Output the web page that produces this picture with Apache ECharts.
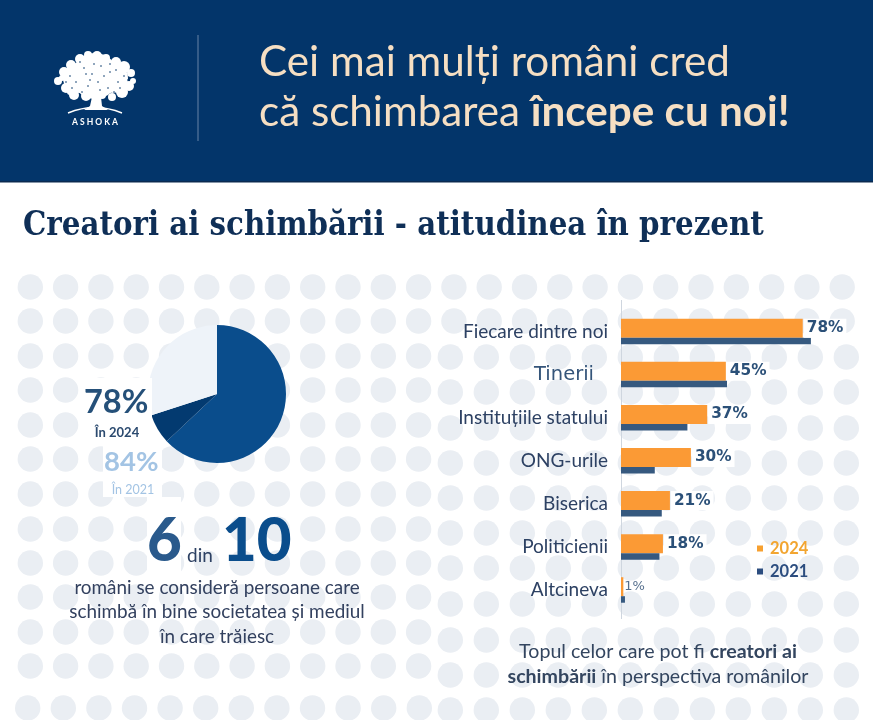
<!DOCTYPE html>
<html lang="ro">
<head>
<meta charset="utf-8">
<title>Creatori ai schimbării</title>
<style>
  html, body { margin: 0; padding: 0; background: #fff; }
  #chart { width: 873px; height: 720px; }
</style>
<script src="https://cdn.jsdelivr.net/npm/echarts@6/dist/echarts.min.js"></script>
</head>
<body>
<div id="chart"></div>
<script>
// Bar chart data: who can be a creator of change, in percent
const categories = ['Fiecare dintre noi', 'Tinerii', 'Instituțiile statului', 'ONG-urile', 'Biserica', 'Politicienii', 'Altcineva'];
const values2024 = [78, 45, 37, 30, 21, 18, 1];
const values2021 = [81.5, 45.5, 28.5, 14.5, 17.5, 16.5, 1.7];
const seriesNames = ['2024', '2021'];

// Pie chart data: share of people who see themselves as changemakers
const pieNames = ['Se consideră', 'Diferență', 'Restul'];
const pieValues = [63, 7, 30];

// Headline and caption text
const headerLine1 = 'Cei mai mulți români cred';
const headerLine2 = 'că schimbarea ';
const headerBold = 'începe cu noi!';
const pageTitle = 'Creatori ai schimbării - atitudinea în prezent';
const bodyLines = ['români se consideră persoane care', 'schimbă în bine societatea și mediul', 'în care trăiesc'];

const NAVY = '#03356a';
const ORANGE = '#fb9a35';
const BLUE = '#36597f';
const DOT = '#eaeef3';
const INK = '#2d4163';

const graphics = [];

function dot(x, y) {
  graphics.push({ type: 'circle', z: 0, silent: true, shape: { cx: x, cy: y, r: 12.7 }, style: { fill: DOT } });
}
function rect(x, y, w, h, fill, z) {
  graphics.push({ type: 'rect', z: z, silent: true, shape: { x: x, y: y, width: w, height: h }, style: { fill: fill } });
}
function text(str, x, y, font, fill, align, rich) {
  graphics.push({
    type: 'text', z: 12, silent: true,
    style: { text: str, x: x, y: y, font: font, fill: fill, textAlign: align || 'left', textVerticalAlign: 'middle', rich: rich }
  });
}

// Dotted backdrop, made of three offset grids
const leftRows = [287, 321, 356, 390, 425, 459, 494, 529, 563, 597, 632, 666];
leftRows.forEach(function (y, r) {
  const cols = r < 2 ? 24 : 12;
  for (let k = 0; k < cols; k++) dot(30.3 + 35.3 * k, y);
});
for (let k = 0; k < 12; k++) dot(27.7 + 35.6 * k, 708);
[357, 392, 428, 463, 498, 533, 568, 604, 640, 675, 710].forEach(function (y) {
  for (let k = 0; k < 12; k++) dot(450.3 + 36 * k, y);
});

// Header band
rect(0, 0, 873, 182, NAVY, 1);
rect(0, 181, 873, 1.5, '#0b2a50', 1);
rect(197.5, 35, 1, 106, '#6884a6', 2);

// Tree emblem
const crown = [[95,76,23],[78,78,15],[113,78,15],[80,59,5],[88,55,4],[97,56,5],[106,58,4],[116,62,5],[71,65,5],[124,67,6],[64,72,5],[131,73,4],[58,81,4],[133,81,3],[62,78,3],[129,86,5],[66,88,5],[122,92,6],[74,95,5],[112,97,4],[86,96,5],[102,95,4],[70,92,3]];
const specks = [[84,68],[92,74],[101,66],[110,72],[76,82],[88,86],[98,82],[108,88],[118,82],[70,76],[124,76],[94,64],[82,92],[114,92],[104,76],[72,88],[90,80],[86,74],[116,70],[100,90],[80,62],[110,64],[128,80],[66,82],[94,92],[120,88]];
crown.forEach(function (c) {
  graphics.push({ type: 'circle', z: 3, silent: true, shape: { cx: c[0], cy: c[1], r: c[2] }, style: { fill: '#fff' } });
});
specks.forEach(function (s) {
  graphics.push({ type: 'circle', z: 4, silent: true, shape: { cx: s[0], cy: s[1], r: 0.8 }, style: { fill: NAVY } });
});
graphics.push({ type: 'polygon', z: 4, silent: true, shape: { points: [[84,110],[90,106],[92,97],[87,91],[92,93],[95,87],[98,87],[99,93],[105,89],[101,97],[102,106],[108,110]] }, style: { fill: '#fff' } });
graphics.push({ type: 'bezierCurve', z: 4, silent: true, shape: { x1: 68, y1: 113, x2: 122, y2: 113, cpx1: 95, cpy1: 102 }, style: { stroke: '#fff', lineWidth: 1.4, fill: 'none' } });
text('A S H O K A', 95, 122, '700 8.5px Lato', '#fff', 'center');

// Headline
text(headerLine1, 259, 62, '400 42.2px Lato', '#f6dfc3');
text('{r|' + headerLine2 + '}{b|' + headerBold + '}', 259, 112, '400 42.2px Lato', '#f6dfc3', 'left', {
  r: { font: '400 42.2px Lato', color: '#f6dfc3' },
  b: { font: '700 42.2px Lato', color: '#f6dfc3' }
});

// Section title
text(pageTitle, 23, 227, '700 32.6px "DejaVu Serif Condensed"', '#0f2f57');

// White patches behind the left-hand figures
rect(83, 378, 69, 60, '#fff', 10);
rect(103, 438, 59, 59, '#fff', 10);
rect(147, 497, 34, 80, '#fff', 10);

text('78%', 84, 403, '700 32.5px Lato', '#255079');
text('În 2024', 117, 433, '700 13px Lato', '#2b4a6f', 'center');
text('84%', 104, 462, '700 27.5px Lato', '#a3c4e4');
text('În 2021', 133, 490, '400 12.5px Lato', '#a3c4e4', 'center');

text('6', 147, 541.5, '900 60px Lato', '#2a5a8c');
text('din', 187, 556, '400 19px Lato', INK);
text('10', 222, 541.5, '900 60px Lato', '#0a4d8c');

bodyLines.forEach(function (line, i) {
  text(line, 217, [588, 612, 636.5][i], '400 18.9px Lato', '#33415f', 'center');
});

// Bar chart baseline
rect(621, 300, 1, 319, '#cfd6df', 1);

// Bar chart caption
text('{r|Topul celor care pot fi }{b|creatori ai}', 658, 652, '400 19.6px Lato', '#33455f', 'center', {
  r: { font: '400 19.6px Lato', color: '#33455f' },
  b: { font: '700 19.6px Lato', color: '#2b3a55' }
});
text('{b|schimbării}{r| în perspectiva românilor}', 658, 677, '400 19.6px Lato', '#33455f', 'center', {
  r: { font: '400 19.6px Lato', color: '#33455f' },
  b: { font: '700 19.6px Lato', color: '#2b3a55' }
});

const valueLabel = {
  show: true,
  position: 'right',
  distance: 1,
  formatter: '{c}%',
  color: '#2b5078',
  fontFamily: '"DejaVu Sans"',
  fontWeight: 700,
  fontSize: 15.3,
  backgroundColor: '#fff',
  padding: [2, 3]
};
const smallLabel = {
  fontWeight: 400,
  fontSize: 13,
  color: '#56708e',
  backgroundColor: 'transparent',
  padding: 0
};

const chart = echarts.init(document.getElementById('chart'), null, { renderer: 'canvas' });
chart.setOption({
  animation: false,
  backgroundColor: '#fff',
  graphic: { elements: graphics },
  grid: { left: 621, top: 310, width: 233, height: 301.5, containLabel: false },
  xAxis: { type: 'value', min: 0, max: 100, show: false },
  yAxis: {
    type: 'category',
    inverse: true,
    data: categories,
    axisLine: { show: false },
    axisTick: { show: false },
    axisLabel: {
      margin: 13,
      fontFamily: 'Lato',
      fontSize: 19,
      color: INK,
      formatter: function (v) { return v === 'Tinerii' ? '{t|' + v + '}{g|}' : v; },
      rich: {
        t: { fontFamily: '"DejaVu Sans"', fontSize: 19.5, color: '#35557a' },
        g: { width: 14 }
      }
    }
  },
  legend: {
    orient: 'vertical',
    left: 757,
    top: 540,
    padding: 0,
    icon: 'rect',
    itemWidth: 6,
    itemHeight: 6,
    itemGap: 6,
    selectedMode: false,
    textStyle: { fontFamily: 'Lato', fontWeight: 700, fontSize: 16.5, padding: [0, 0, 0, 2] },
    data: [
      { name: seriesNames[0], textStyle: { color: '#f2a530' }, itemStyle: { color: '#f7a02f' } },
      { name: seriesNames[1], textStyle: { color: '#2c4d7f' }, itemStyle: { color: '#2c4d7f' } }
    ]
  },
  series: [
    {
      type: 'bar',
      name: seriesNames[0],
      barWidth: 19,
      barGap: 0,
      itemStyle: { color: ORANGE },
      label: valueLabel,
      data: values2024.map(function (v, i) {
        return i === values2024.length - 1 ? { value: v, label: smallLabel } : v;
      })
    },
    {
      type: 'bar',
      name: seriesNames[1],
      barWidth: 6.5,
      barGap: 0,
      itemStyle: { color: BLUE },
      data: values2021
    },
    {
      type: 'pie',
      name: 'Creatori',
      center: [217, 394],
      radius: [0, 69],
      startAngle: 90,
      clockwise: true,
      label: { show: false },
      labelLine: { show: false },
      silent: true,
      data: pieValues.map(function (v, i) {
        return { name: pieNames[i], value: v, itemStyle: { color: ['#0a4d8c', '#033a70', '#eef3f9'][i] } };
      })
    }
  ]
});
</script>
</body>
</html>
